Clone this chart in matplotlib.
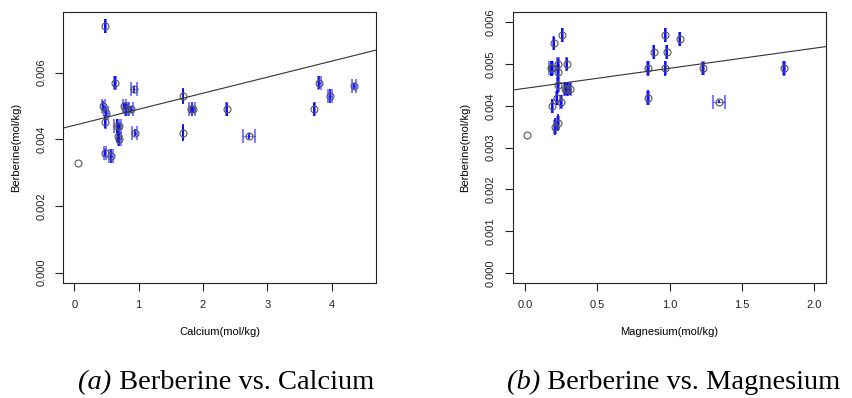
import numpy as np
import matplotlib
matplotlib.use('Agg')
import matplotlib.pyplot as plt
from matplotlib.ticker import FormatStrFormatter

plt.rcParams['font.family'] = ['Liberation Sans', 'DejaVu Sans']

# panel (a): berberine vs calcium
ca_x = [0.05, 0.48, 0.63, 0.93, 0.45, 0.50, 0.48, 0.78, 0.81, 0.88, 0.66, 0.70,
        0.68, 0.70, 0.94, 0.48, 0.57, 1.69, 1.69, 1.81, 1.85, 2.37, 2.72, 3.73,
        3.81, 3.97, 4.35]
ca_y = [0.0033, 0.0074, 0.0057, 0.0055, 0.0050, 0.0048, 0.00453, 0.0050, 0.0049,
        0.0049, 0.0044, 0.0044, 0.0041, 0.0040, 0.0042, 0.0036, 0.0035, 0.0053,
        0.0042, 0.0049, 0.0049, 0.0049, 0.0041, 0.0049, 0.0057, 0.0053, 0.0056]
ca_xerr = [0, 0.01, 0.02, 0.05, 0.02, 0.02, 0.01, 0.03, 0.02, 0.03, 0.04, 0.03,
           0.02, 0.02, 0.04, 0.02, 0.03, 0.005, 0.005, 0.02, 0.02, 0.01, 0.09,
           0.005, 0.02, 0.03, 0.03]
ca_yerr = [0, 0.0002, 0.0002, 0.0001, 0.00015, 0.0001, 0.0002, 0.0001, 0.0002,
           0.0001, 0.0002, 0.0001, 0.0002, 0.0002, 0.0001, 0.0001, 0.0002, 0.00025,
           0.00025, 0.0001, 0.0001, 0.0002, 0.0001, 0.0002, 0.0002, 0.0002, 0.0001]
ca_fit = (0.00442, 0.000481)  # intercept, slope

# panel (b): berberine vs magnesium
mg_x = [0.014, 0.20, 0.26, 0.18, 0.19, 0.23, 0.23, 0.29, 0.23, 0.28, 0.29, 0.31,
        0.22, 0.25, 0.19, 0.23, 0.21, 0.85, 0.85, 0.89, 0.97, 0.98, 0.97, 1.07,
        1.23, 1.34, 1.79]
mg_y = [0.0033, 0.0055, 0.0057, 0.0049, 0.0049, 0.0050, 0.0048, 0.0050, 0.0045,
        0.0044, 0.0044, 0.0044, 0.0042, 0.0041, 0.0040, 0.0036, 0.0035, 0.0049,
        0.0042, 0.0053, 0.0057, 0.0053, 0.0049, 0.0056, 0.0049, 0.0041, 0.0049]
mg_xerr = [0, 0.005, 0.005, 0.01, 0.005, 0.005, 0.005, 0.005, 0.005, 0.01, 0.01,
           0.01, 0.005, 0.005, 0.005, 0.005, 0.005, 0.005, 0.005, 0.005, 0.005,
           0.005, 0.005, 0.005, 0.005, 0.04, 0.005]
mg_yerr = [0, 0.00015, 0.00017, 0.00018, 0.00018, 0.00015, 0.00015, 0.00015,
           0.00018, 0.00015, 0.00015, 0.00015, 0.00018, 0.00015, 0.00017, 0.0002,
           0.0002, 0.00018, 0.00017, 0.00017, 0.00017, 0.00017, 0.00018, 0.00017,
           0.00015, 0.00003, 0.00018]
mg_fit = (0.00442, 0.000481)

fig = plt.figure(figsize=(8.52, 3.98), dpi=100)
captions = []


def panel(rect, x, y, xerr, yerr, fit, xlim, ylim, xticks, yticks, xlabel, tag, title, capx):
    ax = fig.add_axes(rect)
    x = np.array(x)
    y = np.array(y)
    xerr = np.array(xerr)
    yerr = np.array(yerr)
    has = (xerr > 0) | (yerr > 0)
    # x error bars with end caps, translucent
    ax.errorbar(x[has], y[has], xerr=xerr[has], fmt='none', ecolor='#0000ff',
                elinewidth=1.0, capsize=5, capthick=1.5, alpha=0.5, zorder=2)
    # y error bars
    ax.errorbar(x[has], y[has], yerr=yerr[has], fmt='none', ecolor='#0000ff',
                elinewidth=1.2, capsize=0, zorder=3)
    ax.plot(x, y, 'o', mfc='none', mec='#555555', ms=5, mew=0.8, zorder=4)
    ax.axline((0, fit[0]), slope=fit[1], color='#333333', lw=0.8, zorder=5)
    ax.set_xlim(*xlim)
    ax.set_ylim(*ylim)
    ax.set_xticks(xticks)
    ax.set_yticks(yticks)
    ax.yaxis.set_major_formatter(FormatStrFormatter('%.3f'))
    ax.tick_params(direction='out', length=6, width=0.8, labelsize=8, pad=6,
                   colors='#222222')
    for lab in ax.get_yticklabels():
        lab.set_rotation(90)
        lab.set_va('center')
    for s in ax.spines.values():
        s.set_linewidth(0.8)
        s.set_color('#222222')
    ax.set_xlabel(xlabel, fontsize=8, va='center')
    ax.set_ylabel('Berberine(mol/kg)', fontsize=8, va='center')
    ax.xaxis.set_label_coords(0.5, -0.181)
    ax.yaxis.set_label_coords(-0.151, 0.5)
    # caption: italic tag followed by upright title
    t1 = fig.text(capx, 0.038, tag, ha='left', va='center', fontsize=20.5,
                  family='Liberation Serif', style='italic')
    t2 = fig.text(capx, 0.038, ' ' + title, ha='left', va='center', fontsize=20.5,
                  family='Liberation Serif')
    captions.append((t1, t2, capx))
    return ax


panel([0.0739, 0.289, 0.3674, 0.681], ca_x, ca_y, ca_xerr, ca_yerr, ca_fit,
      (-0.176, 4.69), (-0.00031, 0.00782), [0, 1, 2, 3, 4],
      [0, 0.002, 0.004, 0.006], 'Calcium(mol/kg)',
      '(a)', 'Berberine vs. Calcium', 226 / 852)

ax2 = panel([0.6018, 0.289, 0.3677, 0.681], mg_x, mg_y, mg_xerr, mg_yerr, mg_fit,
            (-0.083, 2.08), (-0.00024, 0.00625), [0, 0.5, 1.0, 1.5, 2.0],
            [0, 0.001, 0.002, 0.003, 0.004, 0.005, 0.006], 'Magnesium(mol/kg)',
            '(b)', 'Berberine vs. Magnesium', 674 / 852)
ax2.xaxis.set_major_formatter(FormatStrFormatter('%.1f'))

# center each caption as a whole
r = fig.canvas.get_renderer()
W = fig.bbox.width
for t1, t2, cx in captions:
    w1 = t1.get_window_extent(r).width / W
    w2 = t2.get_window_extent(r).width / W
    x0 = cx - (w1 + w2) / 2
    t1.set_x(x0)
    t2.set_x(x0 + w1)

fig.savefig('out.png', dpi=100)
